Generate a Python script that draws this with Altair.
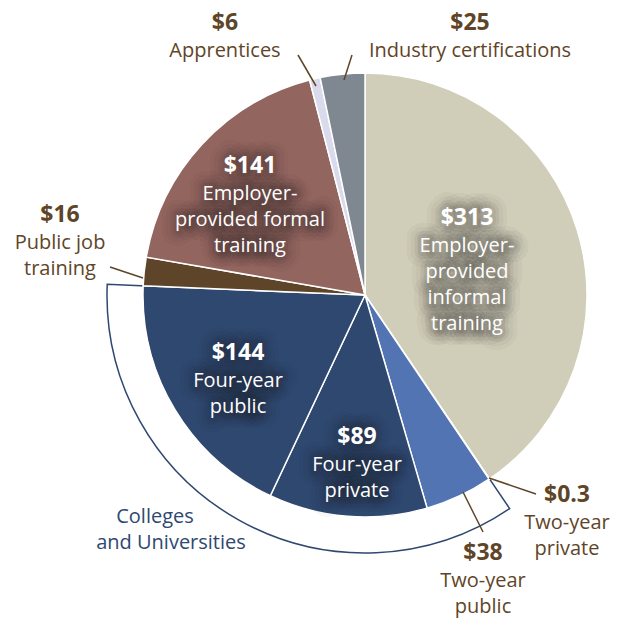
import altair as alt
import pandas as pd

# ---- data ----
categories = ["Employer-provided informal training", "Two-year private", "Two-year public",
              "Four-year private", "Four-year public", "Public job training",
              "Employer-provided formal training", "Apprentices", "Industry certifications"]
values = [313, 0.3, 38, 89, 144, 16, 141, 6, 25]
groups = ["other", "colleges", "colleges", "colleges", "colleges", "other", "other", "other", "other"]
colors = ["#D0CDB8", "#9AAFD6", "#5374B2", "#2E4870", "#2E4870", "#5E4428", "#93655F", "#D9DAEC", "#7F8790"]

label_lines = [
    ["$6", "Apprentices"],
    ["$25", "Industry certifications"],
    ["$16", "Public job", "training"],
    ["$141", "Employer-", "provided formal", "training"],
    ["$313", "Employer-", "provided", "informal", "training"],
    ["$144", "Four-year", "public"],
    ["$89", "Four-year", "private"],
    ["$0.3", "Two-year", "private"],
    ["$38", "Two-year", "public"],
]
label_inside = [False, False, False, True, True, True, True, False, False]
group_label = ["Colleges", "and Universities"]

# ---- layout (page pixels) ----
OFF = 8
CX, CY = 365 - OFF, 295 - OFF
R = 222
R_BRACKET = 258
label_anchor = [(225, 23), (470, 23), (60, 215), (250, 166), (467, 218),
                (238, 353), (357, 437), (567, 495), (483, 553)]
first_gap = 28
line_gap = 26
leaders = [((298, 55), (316, 86)), ((352, 55), (344, 80)), ((110, 267), (143, 278)),
           ((489, 478), (536, 494)), ((463, 492), (483, 532))]
group_pos = [(155, 517), (171, 543)]

BROWN = "#5F4528"
NAVY = "#2E4870"
FONT = "Open Sans"

pie = pd.DataFrame({"cat": categories, "value": values, "idx": range(len(values))})

seg_names, seg_vals = [], []
for g, v in zip(groups, values):
    if seg_names and seg_names[-1] == g:
        seg_vals[-1] += v
    else:
        seg_names.append(g)
        seg_vals.append(v)
bracket = pd.DataFrame({"seg": seg_names, "idx": range(len(seg_names)), "value": seg_vals})

rows = []
for lines, (ax, ay), inside in zip(label_lines, label_anchor, label_inside):
    for i, t in enumerate(lines):
        y = ay if i == 0 else ay + first_gap + (i - 1) * line_gap
        rows.append({"t": t, "x": ax - OFF, "y": y - OFF,
                     "weight": "bold" if i == 0 else "normal",
                     "size": 23 if i == 0 else 20,
                     "inside": inside,
                     "color": "#FFFFFF" if inside else BROWN})
for t, (x, y) in zip(group_label, group_pos):
    rows.append({"t": t, "x": x - OFF, "y": y - OFF, "weight": "normal", "size": 20,
                 "inside": False, "color": NAVY})
txt = pd.DataFrame(rows)

lead = pd.DataFrame({"x": [a[0] - OFF for a, b in leaders], "y": [a[1] - OFF for a, b in leaders],
                     "x2": [b[0] - OFF for a, b in leaders], "y2": [b[1] - OFF for a, b in leaders]})

theta_scale = alt.Scale(domain=[0, sum(values)])

bracket_layer = alt.Chart(bracket).mark_arc(radius=R_BRACKET, radius2=R - 3, stroke=NAVY,
                                            strokeWidth=1.5, fill="white").encode(
    theta=alt.Theta("value:Q", stack=True, scale=theta_scale),
    order=alt.Order("idx:Q"),
    opacity=alt.condition(alt.datum.seg == "colleges", alt.value(1), alt.value(0)),
    x=alt.value(CX), y=alt.value(CY),
)

pie_layer = alt.Chart(pie).mark_arc(radius=R, stroke="white", strokeWidth=1.5).encode(
    theta=alt.Theta("value:Q", stack=True, scale=theta_scale),
    order=alt.Order("idx:Q"),
    color=alt.Color("cat:N", scale=alt.Scale(domain=categories, range=colors), legend=None),
    x=alt.value(CX), y=alt.value(CY),
)

def text_enc(ch):
    return ch.encode(
        x=alt.X("x:Q", scale=None, axis=None), y=alt.Y("y:Q", scale=None, axis=None),
        text="t:N", size=alt.Size("size:Q", scale=None, legend=None),
    )

halos = []
text_layers = []
for wt in ["bold", "normal"]:
    sub_in = txt[(txt["weight"] == wt) & (txt["inside"])]
    for w, op in [(30, 0.04), (22, 0.05), (14, 0.06), (8, 0.06)]:
        halos.append(text_enc(alt.Chart(sub_in).mark_text(
            font=FONT, fontWeight=wt, stroke="#1a1a1a", strokeWidth=w, strokeOpacity=op,
            strokeJoin="round", fillOpacity=0, baseline="middle", align="center")))
    sub = txt[txt["weight"] == wt]
    text_layers.append(text_enc(alt.Chart(sub).mark_text(
        font=FONT, fontWeight=wt, baseline="middle", align="center")).encode(
        color=alt.Color("color:N", scale=None, legend=None)))

lead_layer = alt.Chart(lead).mark_rule(color=BROWN, strokeWidth=1.5).encode(
    x=alt.X("x:Q", scale=None, axis=None), y=alt.Y("y:Q", scale=None, axis=None),
    x2="x2:Q", y2="y2:Q",
)

chart = alt.layer(bracket_layer, pie_layer, *halos, lead_layer, *text_layers).resolve_scale(
    color="independent"
).properties(width=604, height=611, padding=0, autosize="none").configure_view(stroke=None)

chart.save("out.html", embed_options={"renderer": "svg", "actions": False})
